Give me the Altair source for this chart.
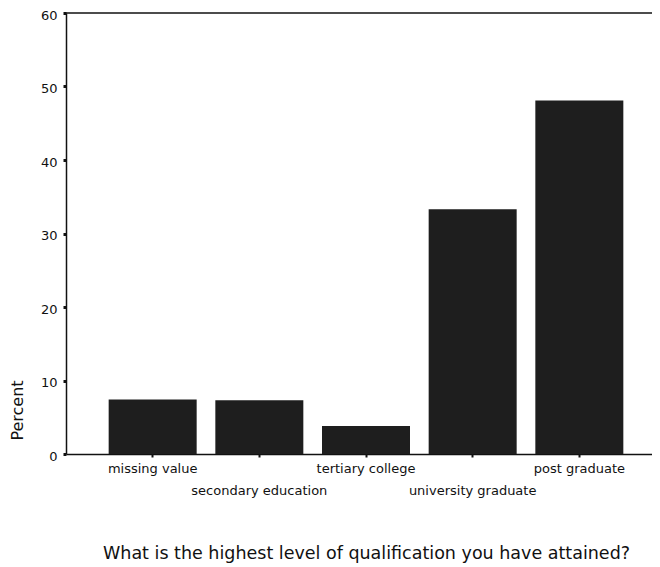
import altair as alt
import pandas as pd

categories = ["missing value", "secondary education", "tertiary college",
              "university graduate", "post graduate"]
percents = [7.4, 7.3, 3.8, 33.3, 48.1]
y_ticks = [0, 10, 20, 30, 40, 50, 60]
y_max = [60]

df = pd.DataFrame({"cat": categories, "pct": percents})
top_df = pd.DataFrame({"pct": y_max})

label_expr = ("indexof(['secondary education','university graduate'], datum.value) >= 0"
              " ? ['', datum.label] : datum.label")

FONT = "DejaVu Sans"

y_enc = alt.Y("pct:Q", scale=alt.Scale(domain=[0, 60], nice=False),
              axis=alt.Axis(title="Percent", values=y_ticks, grid=False,
                            labelFont=FONT, labelFontSize=13, labelColor="#111",
                            labelPadding=6, labelOffset=2, tickSize=3, tickWidth=3,
                            tickColor="#111", domainColor="#111", domainWidth=1.5,
                            titleFont=FONT, titleFontSize=16, titleFontWeight="normal",
                            titleColor="#111", titleX=-49, titleY=397, titleAngle=-90,
                            titleBaseline="middle", titleAlign="center"))

bars = alt.Chart(df).mark_bar(color="#1e1e1e").encode(
    x=alt.X("cat:N", sort=categories,
            scale=alt.Scale(paddingInner=0.175, paddingOuter=0.4, range=[0, 600]),
            axis=alt.Axis(title="What is the highest level of qualification you have attained?",
                          labelAngle=0, labelExpr=label_expr, labelLineHeight=22,
                          labelFont=FONT, labelFontSize=13, labelColor="#111",
                          labelPadding=5, tickSize=3, tickWidth=2, tickColor="#111",
                          domainColor="#111", domainWidth=1.5,
                          titleFont=FONT, titleFontSize=17.5, titleFontWeight="normal",
                          titleColor="#111", titleY=99, titleBaseline="middle")),
    y=y_enc,
)

top_line = alt.Chart(top_df).mark_rule(color="#111", strokeWidth=1.5).encode(
    y=alt.Y("pct:Q"),
)

chart = alt.layer(bars, top_line).properties(
    width=586, height=441,
    padding={"left": 58, "top": 5, "right": 0, "bottom": 109},
    autosize=alt.AutoSizeParams(type="none"),
    background="#ffffff",
).configure_view(strokeWidth=0)

chart.save("out.html", embed_options={"renderer": "svg", "actions": False})
